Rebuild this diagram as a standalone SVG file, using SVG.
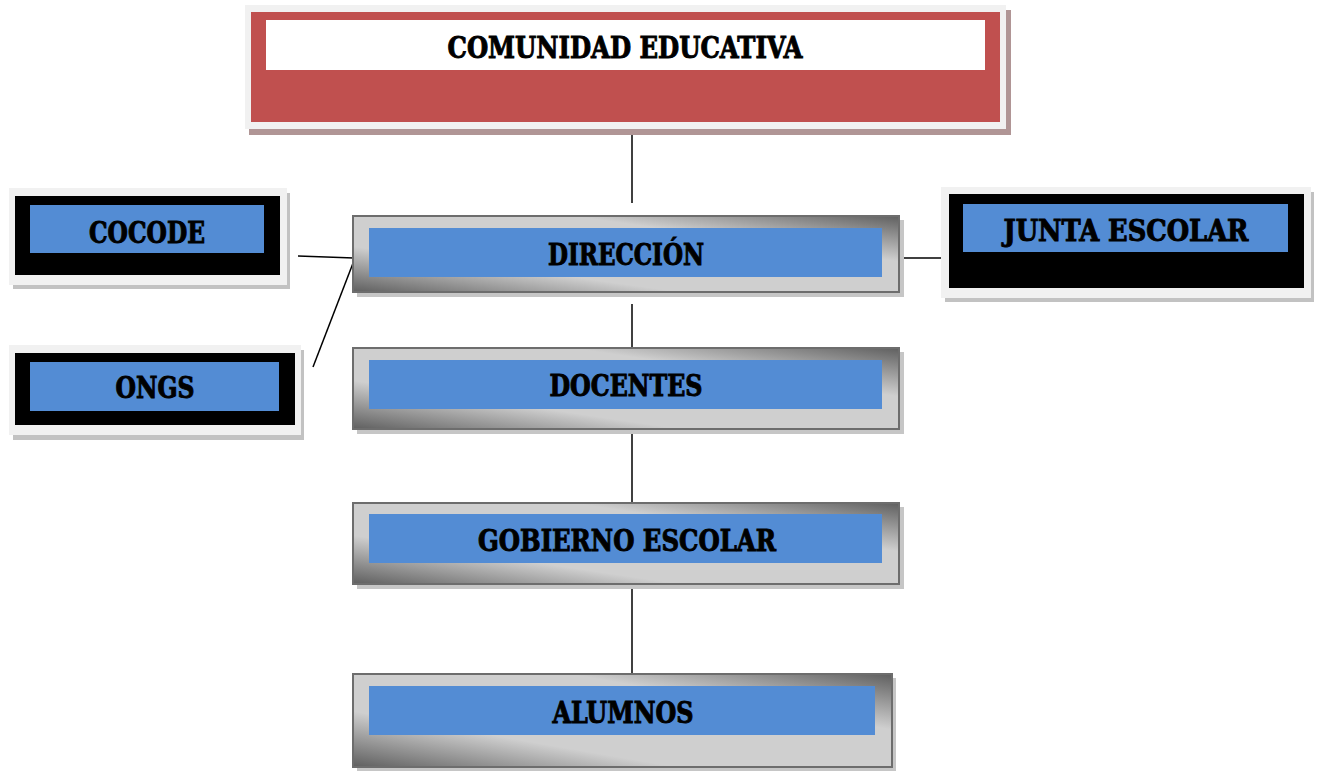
<svg xmlns="http://www.w3.org/2000/svg" width="1317" height="771" viewBox="0 0 1317 771">
<defs>
<linearGradient id="bevel" x1="0" y1="1" x2="1" y2="0">
<stop offset="0" stop-color="#5f5f5f"/>
<stop offset="0.3" stop-color="#cfcfcf"/>
<stop offset="0.7" stop-color="#cfcfcf"/>
<stop offset="1" stop-color="#5f5f5f"/>
</linearGradient>
</defs>
<style>
.lbl{font-family:"DejaVu Serif Condensed","DejaVu Serif","Liberation Serif",serif;font-weight:bold;font-size:29px;fill:#000;stroke:#000;stroke-width:0.9;text-anchor:middle}
.blue{fill:#538cd4}
.frame{fill:#f1f1f1}
.sh{fill:#c2c2c2}
.blk{fill:#000}
.gbox{fill:url(#bevel);stroke:#6d6d6d;stroke-width:2}
.gsh{fill:#c6c6c6}
.con{stroke:#000;stroke-width:1.5;fill:none}
</style>
<rect width="1317" height="771" fill="#fff"/>
<g id="connectors">
<line class="con" x1="632" y1="127" x2="632" y2="203"/>
<line class="con" x1="632" y1="304" x2="632" y2="348"/>
<line class="con" x1="632" y1="430" x2="632" y2="503"/>
<line class="con" x1="632" y1="585" x2="632" y2="674"/>
<line class="con" x1="298" y1="256" x2="354" y2="258"/>
<line class="con" x1="313" y1="367" x2="355" y2="258"/>
<line class="con" x1="899" y1="258" x2="946" y2="258"/>
</g>
<g id="comunidad">
<rect x="249" y="10" width="762" height="125" fill="#b09595"/>
<rect x="245" y="5" width="761" height="124" class="frame"/>
<rect x="251" y="12" width="749" height="110" fill="#c0504f"/>
<rect x="266" y="20" width="719" height="50" fill="#fff"/>
<text class="lbl" x="625" y="58" textLength="355" lengthAdjust="spacingAndGlyphs">COMUNIDAD EDUCATIVA</text>
</g>
<g id="cocode">
<rect x="13" y="193" width="277" height="96" class="sh"/>
<rect x="9" y="188" width="278" height="97" class="frame"/>
<rect x="15" y="196" width="265" height="79" class="blk"/>
<rect x="30" y="205" width="234" height="48" class="blue"/>
<text class="lbl" x="147" y="243" textLength="116" lengthAdjust="spacingAndGlyphs">COCODE</text>
</g>
<g id="ongs">
<rect x="13" y="350" width="291" height="90" class="sh"/>
<rect x="9" y="345" width="292" height="90" class="frame"/>
<rect x="15" y="353" width="280" height="72" class="blk"/>
<rect x="30" y="362" width="249" height="49" class="blue"/>
<text class="lbl" x="155" y="398" textLength="79" lengthAdjust="spacingAndGlyphs">ONGS</text>
</g>
<g id="junta">
<rect x="945" y="192" width="369" height="110" class="sh"/>
<rect x="941" y="187" width="370" height="111" class="frame"/>
<rect x="949" y="194" width="355" height="94" class="blk"/>
<rect x="963" y="204" width="325" height="48" class="blue"/>
<text class="lbl" x="1126" y="241" textLength="245" lengthAdjust="spacingAndGlyphs">JUNTA ESCOLAR</text>
</g>
<g id="direccion">
<rect x="357" y="220" width="547" height="77" class="gsh"/>
<rect x="353" y="216" width="546" height="76" class="gbox"/>
<rect x="369" y="228" width="513" height="49" class="blue"/>
<text class="lbl" x="626" y="265" textLength="156" lengthAdjust="spacingAndGlyphs">DIRECCIÓN</text>
</g>
<g id="docentes">
<rect x="357" y="352" width="547" height="82" class="gsh"/>
<rect x="353" y="348" width="546" height="81" class="gbox"/>
<rect x="369" y="360" width="513" height="49" class="blue"/>
<text class="lbl" x="626" y="396" textLength="153" lengthAdjust="spacingAndGlyphs">DOCENTES</text>
</g>
<g id="gobierno">
<rect x="357" y="507" width="547" height="82" class="gsh"/>
<rect x="353" y="503" width="546" height="81" class="gbox"/>
<rect x="369" y="514" width="513" height="49" class="blue"/>
<text class="lbl" x="627" y="551" textLength="298" lengthAdjust="spacingAndGlyphs">GOBIERNO ESCOLAR</text>
</g>
<g id="alumnos">
<rect x="357" y="678" width="539" height="93" class="gsh"/>
<rect x="353" y="674" width="539" height="93" class="gbox"/>
<rect x="369" y="686" width="506" height="49" class="blue"/>
<text class="lbl" x="623" y="723" textLength="141" lengthAdjust="spacingAndGlyphs">ALUMNOS</text>
</g>
</svg>
